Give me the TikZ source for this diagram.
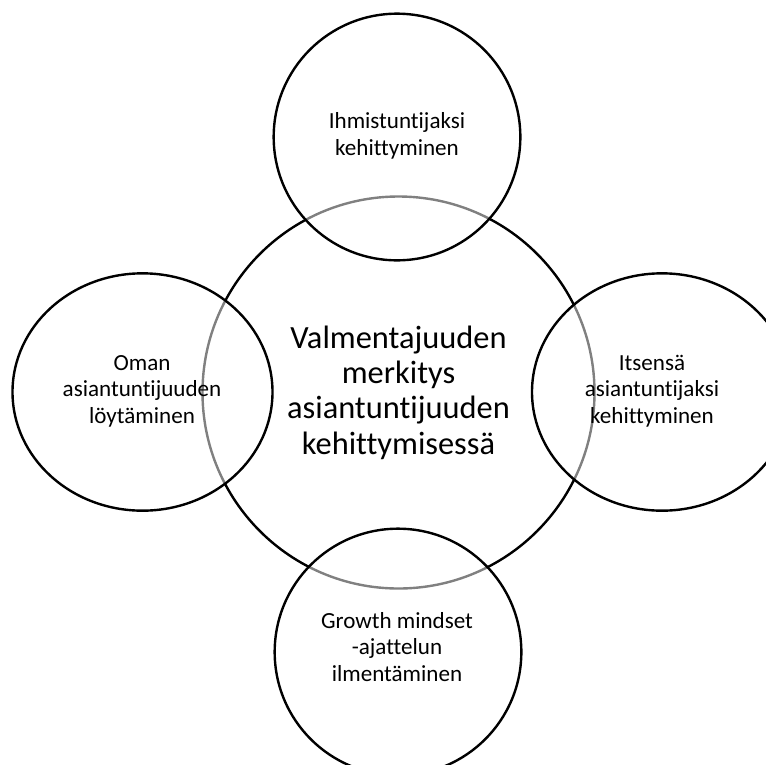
\documentclass[tikz,border=0pt]{standalone}
\usepackage{fontspec}
\setmainfont{Carlito}[Ligatures=NoCommon]
\usetikzlibrary{shapes.geometric}

\begin{document}
\begin{tikzpicture}[x=0.75pt,y=-0.75pt,
  ring/.style={draw,line width=1.8pt,fill=white,fill opacity=0.5,text opacity=1},
  small/.style={align=center,font=\fontsize{17.3}{19.8}\selectfont}]
  \clip (0,0) rectangle (766,764);
  \node[draw,line width=1.8pt,circle,minimum size=294pt,align=center,
        font=\fontsize{24.3}{26.5}\selectfont] (core) at (398.5,392.5)
        {Valmentajuuden\\merkitys\\asiantuntijuuden\\kehittymisessä};
  \node[ring,circle,minimum size=185pt] (top) at (397,137) {};
  \node[ring,ellipse,minimum width=195pt,minimum height=178pt] (left) at (142.5,392) {};
  \node[ring,ellipse,minimum width=195pt,minimum height=178pt] (right) at (662,392) {};
  \node[ring,circle,minimum size=185pt] (bottom) at (398,652) {};
  \node[small] (toplabel) at (397,136) {Ihmistuntijaksi\\kehittyminen};
  \node[small] (leftlabel) at (142,391) {Oman\\asiantuntijuuden\\löytäminen};
  \node[small] (rightlabel) at (652,391) {Itsensä\\asiantuntijaksi\\kehittyminen};
  \node[small] (bottomlabel) at (397,647) {Growth mindset\\-ajattelun\\ilmentäminen};
\end{tikzpicture}
\end{document}
